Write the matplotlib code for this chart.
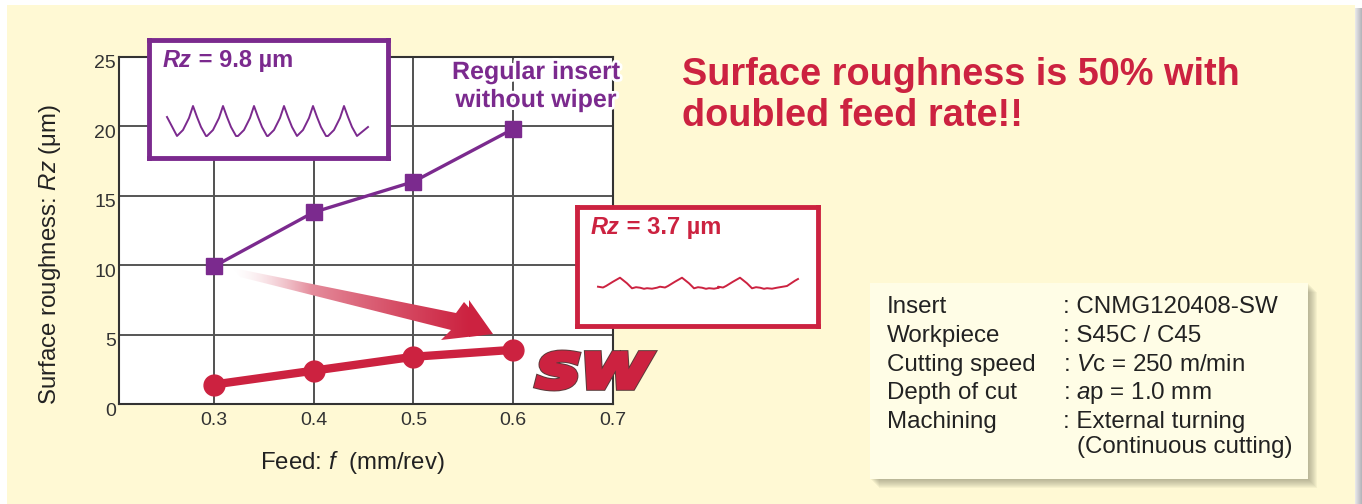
import numpy as np
import matplotlib
matplotlib.use("Agg")
import matplotlib.pyplot as plt
import matplotlib.patheffects as pe
from matplotlib.patches import Rectangle, Polygon, PathPatch
from matplotlib.textpath import TextPath
from matplotlib.font_manager import FontProperties
from matplotlib.transforms import Affine2D

plt.rcParams['font.family'] = ['Liberation Sans', 'DejaVu Sans']
plt.rcParams['mathtext.fontset'] = 'custom'
plt.rcParams['mathtext.rm'] = 'Liberation Sans'
plt.rcParams['mathtext.it'] = 'Liberation Sans:italic'
plt.rcParams['mathtext.bf'] = 'Liberation Sans:bold'

# data
feed = [0.3, 0.4, 0.5, 0.6]
rz_regular = [9.9, 13.8, 16.0, 19.8]
rz_wiper = [1.4, 2.4, 3.4, 3.9]
x_ticks = [0.3, 0.4, 0.5, 0.6, 0.7]
y_ticks = [0, 5, 10, 15, 20, 25]

# surface profiles (box-local pixel units)
reg_peaks = [44, 74, 105, 135, 164, 195]
reg_dx = [-16, -10, -4, 0, 4, 8, 13]
reg_y = [96, 90, 78, 66, 77, 87, 96]
reg_start = (18, 77)
reg_end = (219, 87)

sw_peaks = [43, 105, 163]
sw_dx = [-22, -17, -14, -7, 0, 7, 12, 16, 20, 24, 27, 32, 37]
sw_y = [79.7, 80.5, 79, 74.7, 70.7, 76.3, 81.3, 80.2, 80.7, 81.8, 81.2, 81.7, 80.7]
sw_end = [(47, 79), (55, 73.7)]

info_labels = ["Insert", "Workpiece", "Cutting speed", "Depth of cut", "Machining"]
info_values = [": CNMG120408-SW", ": S45C / C45", r": $\mathit{V}$c = 250 m/min",
               r": $\mathit{a}$p = 1.0 mm", ": External turning"]

PURPLE = '#7B2A8E'
RED = '#CC2240'
CREAM = '#FFF9D4'

W, H = 1362, 504
fig = plt.figure(figsize=(W / 100, H / 100), dpi=100, facecolor='white')


def fbox(x0, y0, x1, y1):
    return [x0 / W, 1 - y1 / H, (x1 - x0) / W, (y1 - y0) / H]


# background panel
bg = fig.add_axes([0, 0, 1, 1], zorder=-10)
bg.set_xlim(0, W)
bg.set_ylim(H, 0)
bg.axis('off')
bg.add_patch(Rectangle((7, 5), 1348, 499, color=CREAM, lw=0))
for i in range(7):
    bg.add_patch(Rectangle((1355 + i, 8), 1, H, color='#9c9ca4', alpha=0.25 + 0.08 * i, lw=0))

# info box with soft shadow
for i in range(9, 0, -1):
    bg.add_patch(Rectangle((870 + i, 283 + i), 438, 196, color='#7a7a60', alpha=0.07, lw=0))
bg.add_patch(Rectangle((870, 283), 438, 196, color='#FFFDE6', lw=0))
baselines = [313, 342, 371, 399, 428]
for lab, val, yb in zip(info_labels, info_values, baselines):
    bg.text(887, yb, lab, fontsize=17.4, color='#222222', va='baseline')
    bg.text(1063, yb, val, fontsize=17.4, color='#222222', va='baseline')
bg.text(1077, 453, "(Continuous cutting)", fontsize=17.4, color='#222222', va='baseline')

# title
bg.text(682, 85, "Surface roughness is 50% with", fontsize=27.3, fontweight='bold',
        color=RED, va='baseline')
bg.text(682, 126, "doubled feed rate!!", fontsize=27.3, fontweight='bold',
        color=RED, va='baseline')

# main chart
ax = fig.add_axes(fbox(119, 56.7, 613, 404))
ax.set_facecolor('white')
ax.set_xlim(0.205, 0.7)
ax.set_ylim(0, 25)
ax.set_xticks(x_ticks)
ax.set_yticks(y_ticks)
ax.set_xticklabels([f"{v:.1f}" for v in x_ticks])
ax.tick_params(length=0, labelsize=14, colors='#333333', pad=6)
ax.tick_params(axis='y', pad=2)
for lbl in ax.get_yticklabels():
    lbl.set_transform(lbl.get_transform() + Affine2D().translate(0, -5))
for x in feed:
    ax.axvline(x, color='#333333', lw=1.2, zorder=1)
for y in y_ticks[1:-1]:
    ax.axhline(y, color='#555555', lw=1.4, zorder=1)
for s in ax.spines.values():
    s.set_color('#333333')
    s.set_linewidth(1.5)

ax.plot(feed, rz_regular, color=PURPLE, lw=2.4, marker='s', ms=12, zorder=4)
ax.plot(feed, rz_wiper, color=RED, lw=6, marker='o', ms=15, zorder=4)

fig.text(50 / W, 1 - 254 / H, r"Surface roughness: $\mathit{Rz}$ (μm)", rotation=90,
         ha='center', va='center', fontsize=17.3, color='#222222')
fig.text(352 / W, 1 - 463 / H, r"Feed: $\mathit{f}$  (mm/rev)", ha='center', va='center',
         fontsize=17.3, color='#222222')

# overlay for arrow, labels, logo
ov = fig.add_axes([0, 0, 1, 1], zorder=5)
ov.patch.set_visible(False)
ov.axis('off')

arrow = Polygon([(233, 268), (456, 313), (464, 302), (493, 334), (441, 340),
                 (451, 330), (240, 277)], closed=True, fc='none', ec='none')
ov.add_patch(arrow)
n = 256
t = np.linspace(0, 1, n) ** 0.6
red_rgb = np.array(matplotlib.colors.to_rgb(RED))
grad = np.ones((1, n, 4))
grad[0, :, :3] = (1 - t)[:, None] * np.array([1, 1, 1]) + t[:, None] * red_rgb
grad[0, :, 3] = np.clip(np.linspace(0, 1, n) * 3, 0, 1)
im = ov.imshow(grad, extent=(232, 470, 345, 262), aspect='auto', zorder=3)
im.set_clip_path(arrow)
ov.add_patch(Polygon([(469, 300), (493, 334), (469, 337)], closed=True, fc=RED, ec='none',
                     zorder=2))

for txt, yb in [("Regular insert", 79), ("without wiper", 107)]:
    ov.text(536, yb, txt, fontsize=18, fontweight='bold', color=PURPLE,
            ha='center', va='baseline',
            path_effects=[pe.withStroke(linewidth=4, foreground='white')])

tp = TextPath((0, 0), "SW", size=1, prop=FontProperties(family='DejaVu Sans',
                                                          weight='bold', style='italic'))
ext = tp.get_extents()
tr = (Affine2D().translate(-ext.x0, -ext.y0)
      .scale(115 / ext.width, -35 / ext.height).translate(537, 388))
ov.add_patch(PathPatch(tr.transform_path(tp), fc=RED, ec=RED, lw=0, zorder=4,
                       path_effects=[pe.Stroke(linewidth=5, foreground='#5a3a3a'),
                                     pe.Stroke(linewidth=3.6, foreground=RED),
                                     pe.Normal()]))

ov.set_xlim(0, W)
ov.set_ylim(H, 0)


def profile(peaks, dx, yy, start=None, end=()):
    xs, ys = [], []
    if start:
        xs.append(start[0])
        ys.append(start[1])
    for p in peaks:
        xs += [p + d for d in dx]
        ys += list(yy)
    for ex, ey in end:
        xs.append(peaks[-1] + ex)
        ys.append(ey)
    return xs, ys


# inset boxes
def inset(x0, y0, x1, y1, color, value, xs, ys):
    a = fig.add_axes(fbox(x0, y0, x1, y1), zorder=6)
    a.set_xlim(0, x1 - x0)
    a.set_ylim(y1 - y0, 0)
    a.set_xticks([])
    a.set_yticks([])
    a.set_facecolor('white')
    for s in a.spines.values():
        s.set_color(color)
        s.set_linewidth(3.5)
    a.plot(xs, ys, color=color, lw=1.4)
    t1 = a.text(14, 27, "Rz", fontsize=17, fontweight='bold', style='italic',
                color=color, va='baseline')
    a.annotate(" = " + value, xy=(1, 0), xycoords=t1, fontsize=17, fontweight='bold',
               color=color, va='bottom', ha='left')
    return a


rx, ry = profile(reg_peaks, reg_dx, reg_y, start=reg_start)
rx.append(reg_end[0])
ry.append(reg_end[1])
inset(149, 40, 388, 158, PURPLE, "9.8 µm", rx, ry)

sx, sy = profile(sw_peaks, sw_dx, sw_y, end=sw_end)
sx.append(221)
sy.append(72)
inset(577, 207, 818, 326, RED, "3.7 µm", sx, sy)

fig.savefig("out.png", dpi=100, facecolor='white')
